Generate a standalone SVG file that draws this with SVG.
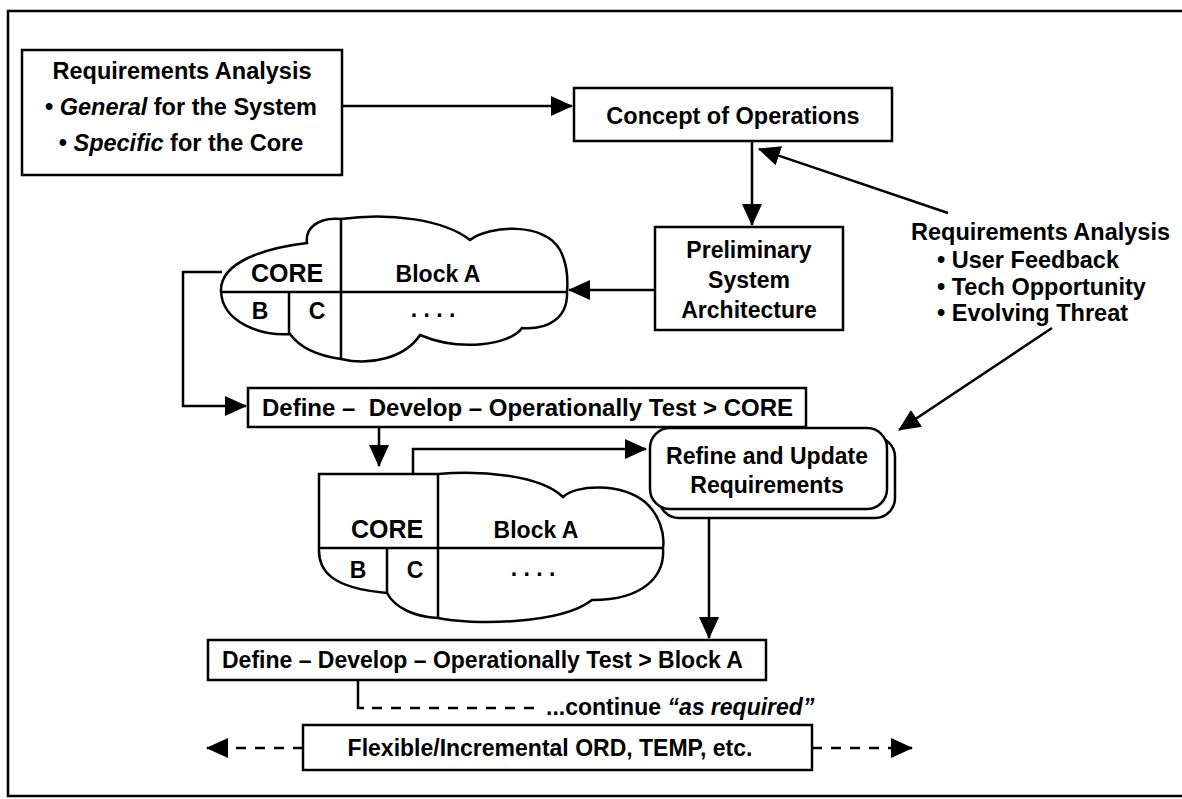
<svg xmlns="http://www.w3.org/2000/svg" width="1182" height="799" viewBox="0 0 1182 799">
<style>
text{font-family:"Liberation Sans",Arial,Helvetica,sans-serif;font-size:23px;font-weight:bold;fill:#000}
.c{text-anchor:middle}
.big{font-size:23.5px}
.core{font-size:25px}
.box{fill:#fff;stroke:#000;stroke-width:2.5}
.ln{fill:none;stroke:#000;stroke-width:2.5}
.dash{fill:none;stroke:#000;stroke-width:2.5;stroke-dasharray:10 9}
</style>
<defs>
<marker id="ah" viewBox="0 0 22 20" refX="21" refY="10" markerWidth="22" markerHeight="20" orient="auto" markerUnits="userSpaceOnUse"><path d="M0,0 L22,10 L0,20 z" fill="#000"/></marker>
</defs>
<rect width="1182" height="799" fill="#fff"/>
<path class="ln" d="M1182 11 H8 V796 H1182"/>

<g id="connectors">
<path class="ln" d="M342 106 H572" marker-end="url(#ah)"/>
<path class="ln" d="M752 141 V225" marker-end="url(#ah)"/>
<path class="ln" d="M948 213 L759 149" marker-end="url(#ah)"/>
<path class="ln" d="M655 290 H569" marker-end="url(#ah)"/>
<path class="ln" d="M222 272 H183 V406 H246" marker-end="url(#ah)"/>
<path class="ln" d="M379 427 V466" marker-end="url(#ah)"/>
<path class="ln" d="M413 474 V449 H646" marker-end="url(#ah)"/>
<path class="ln" d="M1052 328 L899 430" marker-end="url(#ah)"/>
<path class="ln" d="M709 509 V638" marker-end="url(#ah)"/>
<path class="ln" d="M358 680 V708 H364"/>
<path class="dash" d="M372 708 H543"/>
<path class="dash" d="M303 748 H207" marker-end="url(#ah)"/>
<path class="dash" d="M812 748 H912" marker-end="url(#ah)"/>
</g>

<g id="req1">
<rect class="box" x="22" y="50" width="320" height="125"/>
<text class="c big" x="182" y="79">Requirements Analysis</text>
<text class="c big" x="181" y="115">• <tspan font-style="italic">General</tspan> for the System</text>
<text class="c big" x="181" y="151">• <tspan font-style="italic">Specific</tspan> for the Core</text>
</g>

<g id="concept">
<rect class="box" x="574" y="88" width="318" height="53"/>
<text class="c big" x="733" y="124">Concept of Operations</text>
</g>

<g id="prelim">
<rect class="box" x="655" y="227" width="188" height="103"/>
<text class="c" x="749" y="258">Preliminary</text>
<text class="c" x="749" y="288">System</text>
<text class="c" x="749" y="318">Architecture</text>
</g>

<g id="req2">
<text class="big" x="911" y="240">Requirements Analysis</text>
<text class="big" x="937" y="268">• User Feedback</text>
<text class="big" x="937" y="295">• Tech Opportunity</text>
<text class="big" x="937" y="321">• Evolving Threat</text>
</g>

<g id="cloud1">
<path class="box" d="M221 291 C220 262 265 248 307 243 C305 228 318 217 341 219 C390 212 445 220 470 240 C490 225 545 222 560 250 C568 265 568 280 567 292 C568 318 548 330 522 328 C510 345 460 352 420 335 C405 358 370 366 341 359 C320 356 300 348 290 334 C260 336 222 322 221 291 Z"/>
<path class="ln" d="M221 292 H567 M341 219 V359 M289 292 V334"/>
<text class="c core" x="287" y="282">CORE</text>
<text class="c" x="438" y="282">Block A</text>
<text class="c" x="260" y="319">B</text>
<text class="c" x="317" y="319">C</text>
<text class="c" x="433" y="317">. . . .</text>
</g>

<g id="define-core">
<rect class="box" x="248" y="388" width="558" height="39"/>
<text x="262" y="416" style="white-space:pre;font-size:24px">Define –  Develop – Operationally Test &gt; CORE</text>
</g>

<g id="cloud2">
<path class="box" d="M319 548 V474 H438 C480 470 540 475 563 497 C575 485 620 482 645 502 C660 515 665 535 663 548 C665 575 645 600 592 600 C560 625 470 625 438 618 C415 617 395 608 387 593 C330 588 318 570 319 548 Z"/>
<path class="ln" d="M319 548 H663 M438 474 V618 M387 548 V593"/>
<text class="c core" x="387" y="538">CORE</text>
<text class="c" x="536" y="538">Block A</text>
<text class="c" x="358" y="578">B</text>
<text class="c" x="415" y="578">C</text>
<text class="c" x="533" y="576">. . . .</text>
</g>

<g id="refine">
<rect class="box" x="659" y="437" width="236" height="81" rx="20"/>
<rect class="box" x="650" y="428" width="237" height="81" rx="20"/>
<text class="c" x="767" y="464">Refine and Update</text>
<text class="c" x="767" y="493">Requirements</text>
</g>

<g id="define-blocka">
<rect class="box" x="208" y="640" width="558" height="40"/>
<text x="222" y="668">Define – Develop – Operationally Test &gt; Block A</text>
</g>

<g id="continue">
<text x="546" y="715">...continue <tspan font-style="italic">“as required”</tspan></text>
</g>

<g id="flexible">
<rect class="box" x="303" y="725" width="509" height="45"/>
<text class="c" x="550" y="756">Flexible/Incremental ORD, TEMP, etc.</text>
</g>
</svg>
